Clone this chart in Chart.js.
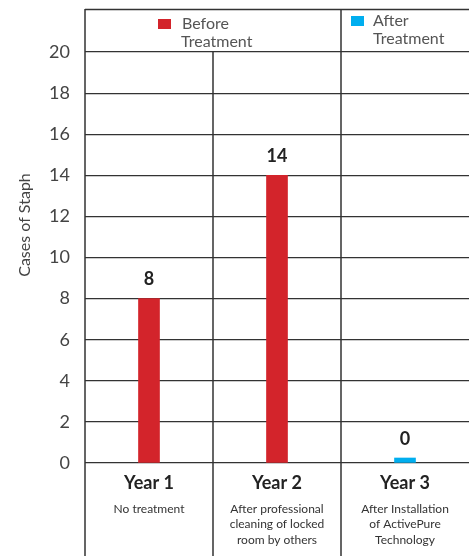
<!DOCTYPE html>
<html>
<head>
<meta charset="utf-8">
<script src="https://cdn.jsdelivr.net/npm/chart.js@4/dist/chart.umd.min.js"></script>
<style>
  html, body { margin: 0; padding: 0; background: #fff; }
  #wrap { width: 469px; height: 556px; }
</style>
</head>
<body>
<div id="wrap"><canvas id="chart" width="469" height="556"></canvas></div>
<script>
// chart values
const categories = ["Year 1", "Year 2", "Year 3"];
const subtitles = [
    ["No treatment"],
    ["After professional", "cleaning of locked", "room by others"],
    ["After Installation", "of ActivePure", "Technology"]
];
const beforeValues = [8, 14, null];
const afterValues = [null, null, 0];
const yTicks = [0, 2, 4, 6, 8, 10, 12, 14, 16, 18, 20];
const yTitle = "Cases of Staph";

const RED = '#d3242b';
const CYAN = '#00aeef';
const LINE = '#333';
const FONT = 'Lato, "Open Sans", sans-serif';

// lines, legend, labels that chart.js does not draw on its own
var tablePlugin = {
    id: 'tableLines',
    afterDraw: function(chart) {
        let ctx = chart.ctx;
        let x = chart.scales.x;
        let y = chart.scales.y;
        let area = chart.chartArea;
        let half = (x.getPixelForValue(1) - x.getPixelForValue(0)) / 2;
        let H = chart.height;

        ctx.save();
        ctx.strokeStyle = LINE;
        ctx.lineWidth = 1.5;
        ctx.beginPath();
        // top border
        ctx.moveTo(area.left, 9.5); ctx.lineTo(area.right, 9.5);
        // y axis line
        ctx.moveTo(area.left, 9); ctx.lineTo(area.left, H);
        // column dividers
        let d1 = x.getPixelForValue(0) + half;
        let d2 = x.getPixelForValue(1) + half;
        ctx.moveTo(d1, area.top); ctx.lineTo(d1, H);
        ctx.moveTo(d2, 9); ctx.lineTo(d2, H);
        ctx.stroke();

        // legend
        let ds = chart.data.datasets;
        ctx.font = '16px ' + FONT;
        ctx.textBaseline = 'middle';
        ctx.textAlign = 'left';
        ctx.fillStyle = ds[0].backgroundColor;
        ctx.fillRect(158, 19, 13, 10);
        ctx.fillStyle = '#555';
        ctx.fillText('Before', 182, 24);
        ctx.fillText('Treatment', 181, 42);
        ctx.fillStyle = ds[1].backgroundColor;
        ctx.fillRect(351, 16, 13, 10);
        ctx.fillStyle = '#555';
        ctx.fillText('After', 373, 21);
        ctx.fillText('Treatment', 373, 39);

        // category labels
        ctx.textAlign = 'center';
        for (let i = 0; i < categories.length; i++) {
            let cx = x.getPixelForValue(i);
            ctx.fillStyle = '#222';
            ctx.font = 'bold 18px ' + FONT;
            ctx.fillText(categories[i], cx, 483);
            ctx.font = '12px ' + FONT;
            ctx.fillStyle = '#333';
            for (let j = 0; j < subtitles[i].length; j++) {
                ctx.fillText(subtitles[i][j], cx, 509 + j * 15.5);
            }
        }

        // value labels
        ctx.font = 'bold 18px ' + FONT;
        ctx.fillStyle = '#222';
        ctx.textBaseline = 'middle';
        chart.data.datasets.forEach(function(set, di) {
            let meta = chart.getDatasetMeta(di);
            meta.data.forEach(function(bar, i) {
                if (set.data[i] === null) return;
                ctx.fillText(String(set.data[i]), bar.x, bar.y - 19);
            });
        });

        // y axis title
        ctx.translate(25, 225);
        ctx.rotate(-Math.PI / 2);
        ctx.font = '16px ' + FONT;
        ctx.fillStyle = '#444';
        ctx.fillText(yTitle, 0, 0);
        ctx.restore();
    }
};

new Chart(document.getElementById('chart').getContext('2d'), {
    type: 'bar',
    data: {
        labels: categories,
        datasets: [{
            label: 'Before Treatment',
            data: beforeValues,
            backgroundColor: RED,
            barThickness: 21,
            skipNull: true
        }, {
            label: 'After Treatment',
            data: afterValues,
            backgroundColor: CYAN,
            barThickness: 21,
            minBarLength: 5,
            skipNull: true
        }]
    },
    options: {
        responsive: false,
        animation: false,
        devicePixelRatio: 1,
        layout: { padding: { top: 52, right: 0, left: 0, bottom: 0 } },
        plugins: {
            legend: { display: false },
            tooltip: { enabled: false }
        },
        scales: {
            x: {
                grid: { display: false },
                border: { display: false },
                ticks: { display: false },
                afterFit: function(scale) { scale.height = 93; }
            },
            y: {
                min: 0,
                max: 20,
                afterBuildTicks: function(scale) {
                    scale.ticks = yTicks.map(function(v) { return { value: v }; });
                },
                grid: { color: LINE, lineWidth: 1.2, drawTicks: false },
                border: { display: false },
                ticks: {
                    padding: 15,
                    color: '#444',
                    font: { family: FONT, size: 18 }
                },
                afterFit: function(scale) { scale.width = 85; }
            }
        }
    },
    plugins: [tablePlugin]
});
</script>
</body>
</html>
